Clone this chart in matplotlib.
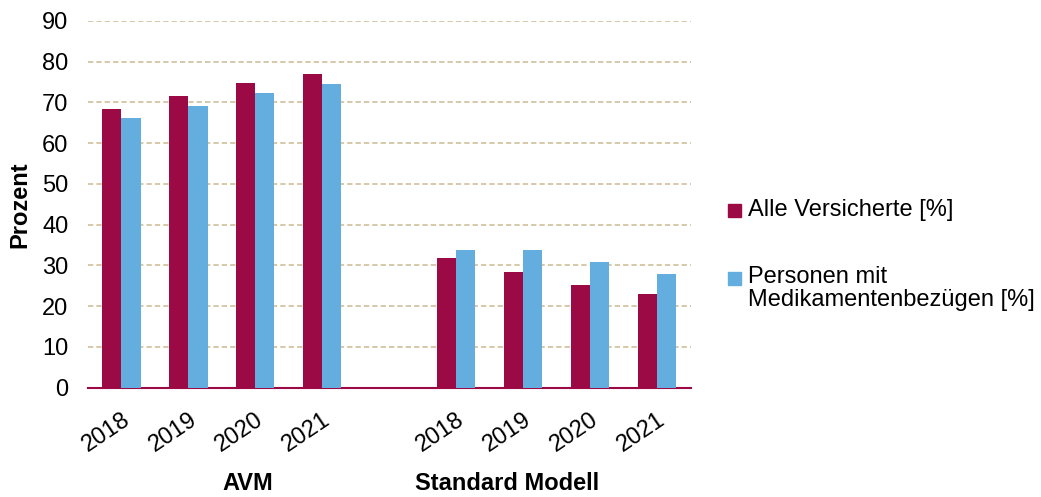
import numpy as np
import matplotlib.pyplot as plt
from matplotlib.patches import Rectangle

plt.rcParams['font.family'] = ['Liberation Sans', 'DejaVu Sans']

# data
years = ["2018", "2019", "2020", "2021"]
groups = ["AVM", "Standard Modell"]
alle_avm = [68.4, 71.6, 74.8, 77.0]
med_avm = [66.1, 69.2, 72.2, 74.6]
alle_std = [31.7, 28.5, 25.2, 23.0]
med_std = [33.8, 33.8, 30.8, 27.9]
series_names = ["Alle Versicherte [%]", "Personen mit\nMedikamentenbezügen [%]"]

RED = "#9B0A45"
BLUE = "#63AEDF"
GRID = "#D6C8A8"
FS = 17

# 4 AVM slots, one empty slot, 4 Standard slots
x_avm = np.arange(4)
x_std = np.arange(5, 9)
w = 0.285

fig = plt.figure(figsize=(10.41, 4.97), dpi=100)
ax = fig.add_axes([0.0845, 0.22, 0.579, 0.738])

ax.bar(x_avm - w / 2, alle_avm, w, color=RED, zorder=3)
ax.bar(x_avm + w / 2, med_avm, w, color=BLUE, zorder=3)
ax.bar(x_std - w / 2, alle_std, w, color=RED, zorder=3)
ax.bar(x_std + w / 2, med_std, w, color=BLUE, zorder=3)

ax.set_xlim(-0.5, 8.5)
ax.set_ylim(0, 90)
ax.set_yticks(range(0, 91, 10))
ax.tick_params(axis='y', length=0, labelsize=FS, pad=14)
ax.yaxis.grid(True, color=GRID, linestyle=(0, (2.7, 1.6)), linewidth=1.4)
ax.set_axisbelow(True)

ax.set_xticks(list(x_avm) + list(x_std))
ax.set_xticklabels(years + years, rotation=34, ha='right', rotation_mode='anchor', fontsize=FS)
ax.tick_params(axis='x', length=0, pad=15)

for s in ['top', 'right', 'left']:
    ax.spines[s].set_visible(False)
ax.spines['bottom'].set_color(RED)
ax.spines['bottom'].set_linewidth(1.5)

ax.set_ylabel("Prozent", fontsize=FS, fontweight='bold', labelpad=8)

# group labels under the year ticks
ax.text(1.88, -0.262, groups[0], transform=ax.get_xaxis_transform(),
        ha='center', va='center', fontsize=FS, fontweight='bold')
ax.text(5.76, -0.262, groups[1], transform=ax.get_xaxis_transform(),
        ha='center', va='center', fontsize=FS, fontweight='bold')

# legend: square markers aligned with first text line
W, H = 1041, 497
leg_y = [211, 278]
for col, name, yc in zip([RED, BLUE], series_names, leg_y):
    fig.patches.append(Rectangle((728 / W, 1 - (yc + 6.5) / H), 13 / W, 13 / H,
                                 color=col, transform=fig.transFigure))
    fig.text(748 / W, 1 - (yc - 12) / H, name, fontsize=FS, va='top', ha='left',
             linespacing=1.05)

fig.savefig("out.png", dpi=100)
